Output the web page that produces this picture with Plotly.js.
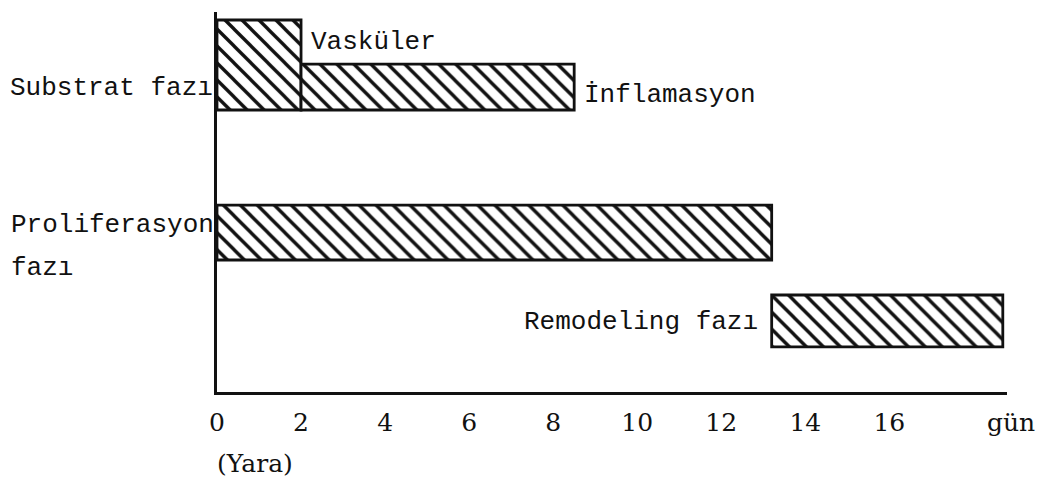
<!DOCTYPE html>
<html>
<head>
<meta charset="utf-8">
<script src="https://cdn.plot.ly/plotly-3.0.1.min.js"></script>
<style>html,body{margin:0;padding:0;background:#fff;}#chart{width:1038px;height:488px;}</style>
</head>
<body>
<div id="chart"></div>
<script>
// Data
const phases   = ['Vasküler', 'İnflamasyon', 'Proliferasyon fazı', 'Remodeling fazı'];
const rows     = ['Substrat fazı', 'Substrat fazı', 'Proliferasyon fazı', 'Remodeling fazı'];
const startDay = [0, 2, 0, 13.2];
const endDay   = [2, 8.5, 13.2, 18.7];
const rowOrder = ['Remodeling fazı', 'Proliferasyon fazı', 'Substrat fazı'];
const tickDays = [0, 2, 4, 6, 8, 10, 12, 14, 16];
const tickText = ['0', '2', '4', '6', '8', '10', '12', '14', '16'];
const unitLabel = 'gün';
const originLabel = '(Yara)';

// styling (bar thickness / placement inside each row)
const barOffset = [0.369, 0.369, -0.317, -0.294];
const barWidth  = [1.011, 0.516, 0.618, 0.584];

const mono = 'Liberation Mono, Courier New, monospace';
const serif = 'DejaVu Serif, Liberation Serif, serif';

const trace = {
  type: 'bar',
  orientation: 'h',
  y: rows,
  base: startDay,
  x: endDay.map((e, i) => e - startDay[i]),
  offset: barOffset,
  width: barWidth,
  text: phases,
  textposition: 'none',
  hoverinfo: 'text',
  marker: {
    color: '#ffffff',
    line: {color: '#111', width: 2.8},
    pattern: {shape: '\\', fgcolor: '#111', bgcolor: '#ffffff', size: 12, solidity: 0.28, fillmode: 'replace'}
  },
  showlegend: false
};

const annFont = {family: mono, size: 26, color: '#111'};
const serifFont = {family: serif, size: 25, color: '#111'};
const annotations = [
  {x: 0, y: rows[0], xref: 'x', yref: 'y', text: rows[0], xanchor: 'right', yanchor: 'middle', xshift: -2, yshift: 55, showarrow: false, font: annFont},
  {x: 0, y: rows[2], xref: 'x', yref: 'y', text: 'Proliferasyon', xanchor: 'right', yanchor: 'middle', xshift: -1, yshift: 7, showarrow: false, font: annFont},
  {x: 0, y: rows[2], xref: 'x', yref: 'y', text: 'fazı', xanchor: 'left', yanchor: 'middle', xshift: -208, yshift: -36, showarrow: false, font: annFont},
  {x: endDay[0], y: rows[0], xref: 'x', yref: 'y', text: phases[0], xanchor: 'left', yanchor: 'middle', xshift: 8, yshift: 101, showarrow: false, font: annFont},
  {x: endDay[1], y: rows[1], xref: 'x', yref: 'y', text: phases[1], xanchor: 'left', yanchor: 'middle', xshift: 8, yshift: 48, showarrow: false, font: annFont},
  {x: startDay[3], y: rows[3], xref: 'x', yref: 'y', text: phases[3], xanchor: 'right', yanchor: 'middle', xshift: -12, yshift: -1, showarrow: false, font: annFont},
  {x: 1, y: 0, xref: 'paper', yref: 'paper', text: unitLabel, xanchor: 'center', yanchor: 'middle', xshift: 4, yshift: -30, showarrow: false, font: serifFont},
  {x: 0, y: 0, xref: 'paper', yref: 'paper', text: originLabel, xanchor: 'left', yanchor: 'middle', xshift: -2, yshift: -71, showarrow: false, font: serifFont}
];

const layout = {
  width: 1038, height: 488,
  margin: {l: 217, r: 31, t: 12, b: 96},
  paper_bgcolor: '#fff', plot_bgcolor: '#fff',
  barmode: 'overlay',
  xaxis: {
    range: [0, 18.8],
    showgrid: false, zeroline: false,
    showline: true, linecolor: '#111', linewidth: 2.8,
    tickmode: 'array', tickvals: tickDays, ticktext: tickText,
    ticks: '', ticklen: 0, ticklabelstandoff: 6,
    tickfont: serifFont
  },
  yaxis: {
    type: 'category',
    categoryorder: 'array', categoryarray: rowOrder,
    range: [-0.8, 3.47],
    showgrid: false, zeroline: false,
    showline: true, linecolor: '#111', linewidth: 2.8,
    showticklabels: false, ticks: ''
  },
  annotations: annotations
};

Plotly.newPlot('chart', [trace], layout, {staticPlot: true});
</script>
</body>
</html>
